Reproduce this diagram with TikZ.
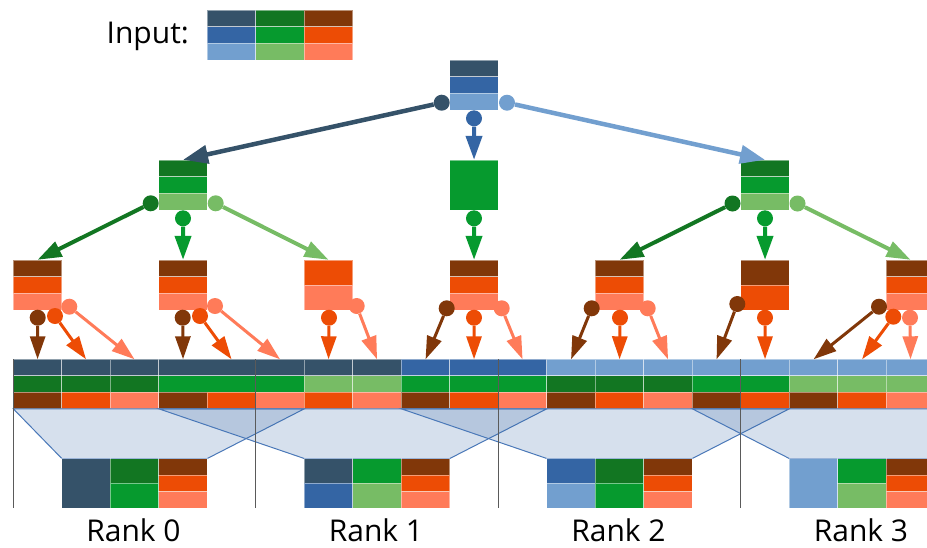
\documentclass[tikz,border=0pt]{standalone}
\usepackage{fontspec}
\setmainfont{Open Sans}
\usetikzlibrary{arrows.meta}
\definecolor{slate}{HTML}{355269}
\definecolor{mblue}{HTML}{3465A4}
\definecolor{lblue}{HTML}{729FCF}
\definecolor{dgreen}{HTML}{127622}
\definecolor{mgreen}{HTML}{069A2E}
\definecolor{lgreen}{HTML}{77BC65}
\definecolor{brownc}{HTML}{813709}
\definecolor{orangec}{HTML}{ED4C05}
\definecolor{lorange}{HTML}{FF7B59}
\definecolor{trapline}{HTML}{4A78B8}
\definecolor{rankline}{HTML}{5A5A5A}
\tikzset{
  cellb/.style={draw=white, draw opacity=0.45, line width=0.7pt},
  boxn/.style={rectangle, minimum width=48.5pt, inner sep=0pt, draw=none},
  dot/.style={circle, fill=#1, inner sep=0pt, minimum size=16pt},
  arrbig/.style={draw=#1, line width=4.5pt, -{Triangle[length=25pt,width=18pt,fill=#1]}},
  arrmid/.style={draw=#1, line width=4pt, -{Triangle[length=24pt,width=16pt,fill=#1]}},
  arrsm/.style={draw=#1, line width=3pt, -{Triangle[length=23pt,width=15pt,fill=#1]}},
  trap/.style={fill=mblue, fill opacity=0.2, draw=trapline, draw opacity=1, line width=1pt},
  rline/.style={draw=rankline, line width=1pt},
  lbl/.style={inner sep=0pt, font=\fontsize{30}{36}\selectfont},
}
\newcommand\stk[6]{%
  \foreach \cc [count=\ii from 0] in {#6}{
    \path[fill=\cc, cellb] ({#2},{#3+\ii*#4/#5}) rectangle ({#2+48.5},{#3+(\ii+1)*#4/#5});
  }
  \node[boxn, minimum height=#4pt] (#1) at ({#2+24.25},{#3+#4/2}) {};
}
\begin{document}
\begin{tikzpicture}[x=1pt,y=-1pt]
\useasboundingbox (0,0) rectangle (927,547);
\clip (0,0) rectangle (927,547);

% Input
\node[lbl, anchor=base east] (inlbl) at (189,43) {Input:};
\stk{inA}{207.3}{10}{50}{3}{slate,mblue,lblue}
\stk{inB}{255.8}{10}{50}{3}{dgreen,mgreen,lgreen}
\stk{inC}{304.3}{10}{50}{3}{brownc,orangec,lorange}

% strip
\foreach \t/\m/\b [count=\i from 0] in {
  slate/dgreen/brownc, slate/dgreen/orangec, slate/dgreen/lorange,
  slate/mgreen/brownc, slate/mgreen/orangec, slate/mgreen/lorange,
  slate/lgreen/orangec, slate/lgreen/lorange,
  mblue/mgreen/brownc, mblue/mgreen/orangec, mblue/mgreen/lorange,
  lblue/dgreen/brownc, lblue/dgreen/orangec, lblue/dgreen/lorange,
  lblue/mgreen/brownc, lblue/mgreen/orangec,
  lblue/lgreen/brownc, lblue/lgreen/orangec, lblue/lgreen/lorange}{
  \pgfmathsetmacro\xl{13.3+48.5*\i}
  \path[fill=\t, cellb] (\xl,359.3) rectangle ++(48.5,16.5);
  \path[fill=\m, cellb] (\xl,375.8) rectangle ++(48.5,16.5);
  \path[fill=\b, cellb] (\xl,392.3) rectangle ++(48.5,16.5);
  \coordinate (s\i) at (\xl+24.25,359.3);
}
\fill[slate] (205.5,360) rectangle (209.1,375.3);
\fill[mgreen] (205.5,376.3) rectangle (209.1,391.8);

% trapezoids
\path[trap] (13.3,408.8) -- (304.3,408.8) -- (207.3,458.5) -- (61.8,458.5) -- cycle;
\path[trap] (158.8,408.8) -- (546.8,408.8) -- (449.8,458.5) -- (304.3,458.5) -- cycle;
\path[trap] (401.3,408.8) -- (789.3,408.8) -- (692.3,458.5) -- (546.8,458.5) -- cycle;
\path[trap] (692.3,408.8) -- (983.3,408.8) -- (934.8,458.5) -- (789.3,458.5) -- cycle;

% rank lines
\foreach \x in {13.3,255.8,498.3,740.8}{
  \draw[rline] (\x,359.3) -- (\x,508);
}

% result blocks
\stk{r0a}{61.8}{458.5}{49.5}{1}{slate}
\stk{r0b}{110.3}{458.5}{49.5}{2}{dgreen,mgreen}
\stk{r0c}{158.8}{458.5}{49.5}{3}{brownc,orangec,lorange}
\stk{r1a}{304.3}{458.5}{49.5}{2}{slate,mblue}
\stk{r1b}{352.8}{458.5}{49.5}{2}{mgreen,lgreen}
\stk{r1c}{401.3}{458.5}{49.5}{3}{brownc,orangec,lorange}
\stk{r2a}{546.8}{458.5}{49.5}{2}{mblue,lblue}
\stk{r2b}{595.3}{458.5}{49.5}{2}{dgreen,mgreen}
\stk{r2c}{643.8}{458.5}{49.5}{3}{brownc,orangec,lorange}
\stk{r3a}{789.3}{458.5}{49.5}{1}{lblue}
\stk{r3b}{837.8}{458.5}{49.5}{2}{mgreen,lgreen}
\stk{r3c}{886.3}{458.5}{49.5}{3}{brownc,orangec,lorange}

\node[lbl, anchor=base] (lab0) at (133.5,541) {Rank 0};
\node[lbl, anchor=base] (lab1) at (376,541) {Rank 1};
\node[lbl, anchor=base] (lab2) at (618.5,541) {Rank 2};
\node[lbl, anchor=base] (lab3) at (861,541) {Rank 3};

% tree nodes
\stk{top}{449.8}{60}{50}{3}{slate,mblue,lblue}
\stk{gL}{158.8}{160}{50}{3}{dgreen,mgreen,lgreen}
\stk{gC}{449.8}{160}{50}{1}{mgreen}
\stk{gR}{740.8}{160}{50}{3}{dgreen,mgreen,lgreen}
\stk{o1}{13.3}{260}{50}{3}{brownc,orangec,lorange}
\stk{o2}{158.8}{260}{50}{3}{brownc,orangec,lorange}
\stk{o3}{304.3}{260}{50}{2}{orangec,lorange}
\stk{o4}{449.8}{260}{50}{3}{brownc,orangec,lorange}
\stk{o5}{595.3}{260}{50}{3}{brownc,orangec,lorange}
\stk{o6}{740.8}{260}{50}{2}{brownc,orangec}
\stk{o7}{886.3}{260}{50}{3}{brownc,orangec,lorange}

% level 1 dots and arrows
\node[dot=slate] (tL) at (441.7,102.7) {};
\node[dot=mblue] (tB) at (474,118.3) {};
\node[dot=lblue] (tR) at (507,102.7) {};
\draw[arrbig=slate] (tL) -- (gL.north);
\draw[arrmid=mblue] (tB) -- (gC.north);
\draw[arrbig=lblue] (tR) -- (gR.north);

% level 2
\node[dot=dgreen] (gLl) at (150.7,203.3) {};
\node[dot=mgreen] (gLb) at (183,218.3) {};
\node[dot=lgreen] (gLr) at (215.7,203.3) {};
\draw[arrmid=dgreen] (gLl) -- (o1.north);
\draw[arrmid=mgreen] (gLb) -- (o2.north);
\draw[arrmid=lgreen] (gLr) -- (o3.north);
\node[dot=mgreen] (gCb) at (474,218.3) {};
\draw[arrmid=mgreen] (gCb) -- (o4.north);
\node[dot=dgreen] (gRl) at (732.5,203.5) {};
\node[dot=mgreen] (gRb) at (765,218.3) {};
\node[dot=lgreen] (gRr) at (797.5,203.5) {};
\draw[arrmid=dgreen] (gRl) -- (o5.north);
\draw[arrmid=mgreen] (gRb) -- (o6.north);
\draw[arrmid=lgreen] (gRr) -- (o7.north);

% level 3
\node[dot=brownc] (a1) at (37.7,317.7) {};
\node[dot=orangec] (a2) at (55,316) {};
\node[dot=lorange] (a3) at (69.3,306.7) {};
\draw[arrsm=brownc] (a1) -- (s0);
\draw[arrsm=orangec] (a2) -- (s1);
\draw[arrsm=lorange] (a3) -- (s2);
\node[dot=brownc] (b1) at (182.7,317.7) {};
\node[dot=orangec] (b2) at (200,316) {};
\node[dot=lorange] (b3) at (215,306) {};
\draw[arrsm=brownc] (b1) -- (s3);
\draw[arrsm=orangec] (b2) -- (s4);
\draw[arrsm=lorange] (b3) -- (s5);
\node[dot=orangec] (c2) at (329,317.7) {};
\node[dot=lorange] (c3) at (356.7,306) {};
\draw[arrsm=orangec] (c2) -- (s6);
\draw[arrsm=lorange] (c3) -- (s7);
\node[dot=brownc] (d1) at (446.7,308.3) {};
\node[dot=orangec] (d2) at (474,317.7) {};
\node[dot=lorange] (d3) at (501.7,308.3) {};
\draw[arrsm=brownc] (d1) -- (s8);
\draw[arrsm=orangec] (d2) -- (s9);
\draw[arrsm=lorange] (d3) -- (s10);
\node[dot=brownc] (e1) at (591.7,308.3) {};
\node[dot=orangec] (e2) at (620,317.7) {};
\node[dot=lorange] (e3) at (647.7,308.3) {};
\draw[arrsm=brownc] (e1) -- (s11);
\draw[arrsm=orangec] (e2) -- (s12);
\draw[arrsm=lorange] (e3) -- (s13);
\node[dot=brownc] (f1) at (737.3,304) {};
\node[dot=orangec] (f2) at (765,317.7) {};
\draw[arrsm=brownc] (f1) -- (s14);
\draw[arrsm=orangec] (f2) -- (s15);
\node[dot=brownc] (h1) at (879,306.7) {};
\node[dot=orangec] (h2) at (893.3,316.7) {};
\node[dot=lorange] (h3) at (910,317.7) {};
\draw[arrsm=brownc] (h1) -- (s16);
\draw[arrsm=orangec] (h2) -- (s17);
\draw[arrsm=lorange] (h3) -- (s18);
\end{tikzpicture}
\end{document}
